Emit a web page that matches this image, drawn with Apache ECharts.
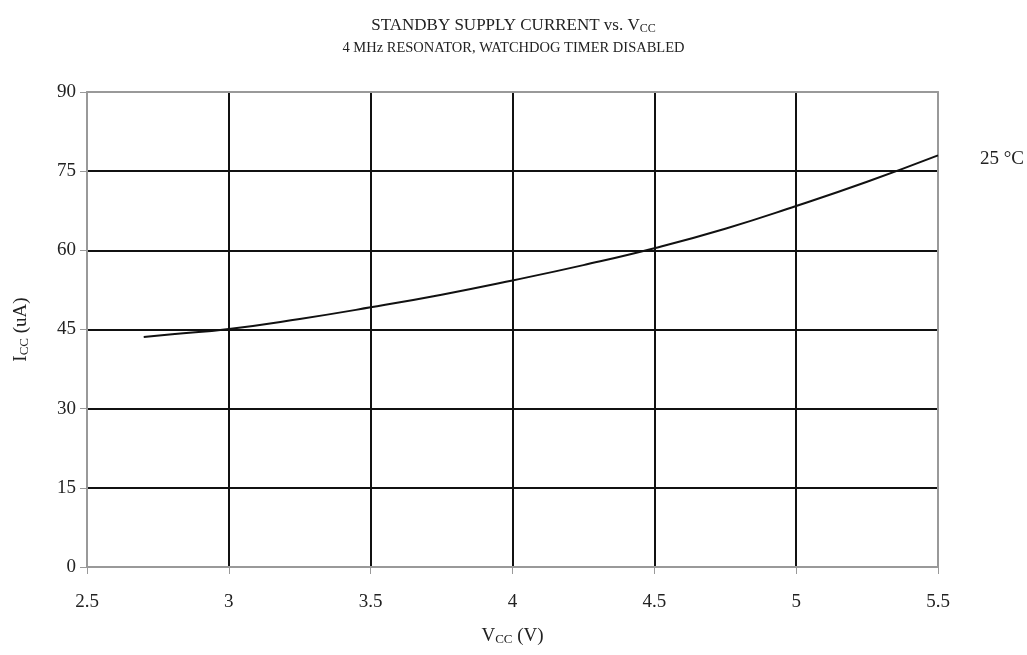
<!DOCTYPE html>
<html>
<head>
<meta charset="utf-8">
<script src="https://cdn.jsdelivr.net/npm/echarts@6/dist/echarts.min.js"></script>
<style>
html,body{margin:0;padding:0;background:#fff;}
#chart{width:1027px;height:655px;}
</style>
</head>
<body>
<div id="chart"></div>
<script>
// values
var vcc = [2.7, 2.8, 3.0, 3.25, 3.5, 3.75, 4.0, 4.25, 4.5, 4.75, 5.0, 5.25, 5.5];
var icc = [43.6, 44.1, 45.1, 47.0, 49.2, 51.6, 54.3, 57.2, 60.4, 64.1, 68.4, 73.0, 78.0];
var curveLabel = '25 °C';

var myChart = echarts.init(document.getElementById('chart'));
var font = '"Liberation Serif", "DejaVu Serif", serif';
var sub = { fontFamily: font, fontSize: 13, color: '#222', verticalAlign: 'bottom', padding: [6, 0, 0, 0] };

var points = [];
for (var i = 0; i < vcc.length; i++) {
	points.push([vcc[i], icc[i]]);
}

var option = {
	backgroundColor: '#fff',
	animation: false,
	title: [{
		text: '{a|STANDBY SUPPLY CURRENT vs. V}{s|CC}',
		left: 'center',
		top: 12,
		textStyle: {
			fontWeight: 'normal',
			rich: {
				a: { fontFamily: font, fontSize: 17, fontWeight: 'normal', color: '#222' },
				s: { fontFamily: font, fontSize: 12, fontWeight: 'normal', color: '#222', padding: [6, 0, 0, 0] }
			}
		}
	}, {
		text: '4 MHz RESONATOR, WATCHDOG TIMER DISABLED',
		left: 'center',
		top: 36,
		textStyle: { fontFamily: font, fontSize: 14.5, fontWeight: 'normal', color: '#222' }
	}],
	grid: {
		left: 87,
		right: 89,
		top: 92,
		bottom: 88
	},
	xAxis: [{
		type: 'value',
		min: 2.5,
		max: 5.5,
		interval: 0.5,
		name: '{a|V}{s|CC}{a| (V)}',
		nameLocation: 'middle',
		nameGap: 60,
		nameTextStyle: {
			rich: {
				a: { fontFamily: font, fontSize: 19, color: '#222' },
				s: sub
			}
		},
		axisLine: { show: true, lineStyle: { color: '#999', width: 2 } },
		axisTick: { show: true, length: 7, lineStyle: { color: '#999' } },
		axisLabel: { fontFamily: font, fontSize: 19, color: '#222', margin: 26 },
		splitLine: { show: true, showMinLine: false, showMaxLine: false, lineStyle: { color: '#111', width: 2 } }
	}, {
		type: 'value',
		position: 'top',
		min: 2.5,
		max: 5.5,
		axisLine: { show: true, onZero: false, lineStyle: { color: '#999', width: 2 } },
		axisTick: { show: false },
		axisLabel: { show: false },
		splitLine: { show: false }
	}],
	yAxis: [{
		type: 'value',
		min: 0,
		max: 90,
		interval: 15,
		name: '{a|I}{s|CC}{a| (uA)}',
		nameLocation: 'middle',
		nameGap: 56,
		nameTextStyle: {
			rich: {
				a: { fontFamily: font, fontSize: 19, color: '#222' },
				s: sub
			}
		},
		axisLine: { show: true, lineStyle: { color: '#999', width: 2 } },
		axisTick: { show: true, length: 7, lineStyle: { color: '#999' } },
		axisLabel: { fontFamily: font, fontSize: 19, color: '#222', margin: 11 },
		splitLine: { show: true, showMinLine: false, showMaxLine: false, lineStyle: { color: '#111', width: 2 } }
	}, {
		type: 'value',
		position: 'right',
		min: 0,
		max: 90,
		axisLine: { show: true, onZero: false, lineStyle: { color: '#999', width: 2 } },
		axisTick: { show: false },
		axisLabel: { show: false },
		splitLine: { show: false }
	}],
	series: [{
		type: 'line',
		data: points,
		smooth: true,
		showSymbol: false,
		z: 10,
		lineStyle: { color: '#111', width: 2 },
		endLabel: {
			show: true,
			formatter: curveLabel,
			fontFamily: font,
			fontSize: 19,
			color: '#222',
			offset: [34, 4]
		}
	}]
};

myChart.setOption(option);
</script>
</body>
</html>
